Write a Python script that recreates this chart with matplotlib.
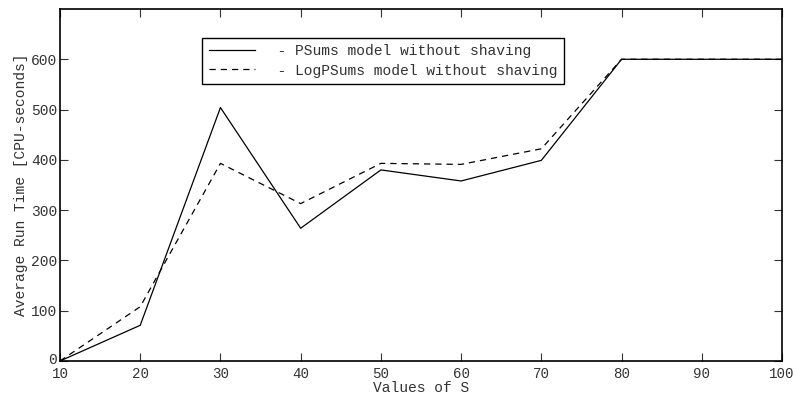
import matplotlib
matplotlib.use("Agg")
import matplotlib.pyplot as plt
from matplotlib.transforms import ScaledTranslation

s_values = [10, 20, 30, 40, 50, 60, 70, 80, 90, 100]
psums = [0, 71, 504, 264, 380, 358, 399, 600, 600, 600]
logpsums = [0, 108, 393, 313, 393, 391, 422, 600, 600, 600]
labels = ["  - PSums model without shaving", "  - LogPSums model without shaving"]

plt.rcParams['font.family'] = ['Liberation Mono', 'DejaVu Sans Mono']
plt.rcParams['font.size'] = 10.5

fig = plt.figure(figsize=(7.94, 3.94), dpi=100)
ax = fig.add_axes([60/794, 1 - 361/394, 722/794, 352/394])
ax.plot(s_values, psums, color='black', lw=0.9, ls='-', label=labels[0])
ax.plot(s_values, logpsums, color='black', lw=0.9, ls=(0, (5, 4)), label=labels[1])
ax.set_xlim(10, 100)
ax.set_ylim(0, 700)
ax.set_xticks(s_values)
ax.set_yticks([0, 100, 200, 300, 400, 500, 600])
ax.tick_params(direction='in', top=True, right=True, length=6, width=0.8,
               colors='#333333', labelcolor='#333333')
ax.tick_params(axis='x', pad=4.5, labelsize=10.2)
ax.tick_params(axis='y', pad=2)
for sp in ax.spines.values():
    sp.set_linewidth(1.2)
ax.set_xlabel("Values of S", color='#333333', labelpad=-0.5)
ax.set_ylabel("Average Run Time [CPU-seconds]", color='#333333', labelpad=2)

zero_lbl = ax.yaxis.get_major_ticks()[0].label1
zero_lbl.set_transform(zero_lbl.get_transform() + ScaledTranslation(0, 2/72, fig.dpi_scale_trans))

leg = ax.legend(loc='upper left', bbox_to_anchor=(0.197, 0.918), frameon=True,
                fancybox=False, edgecolor='black', framealpha=1,
                handlelength=3.2, borderpad=0.45, labelspacing=0.35, handletextpad=0.3,
                borderaxespad=0)
leg.get_frame().set_linewidth(1.0)
for t in leg.get_texts():
    t.set_color('#333333')
fig.savefig("out.png", dpi=100)
